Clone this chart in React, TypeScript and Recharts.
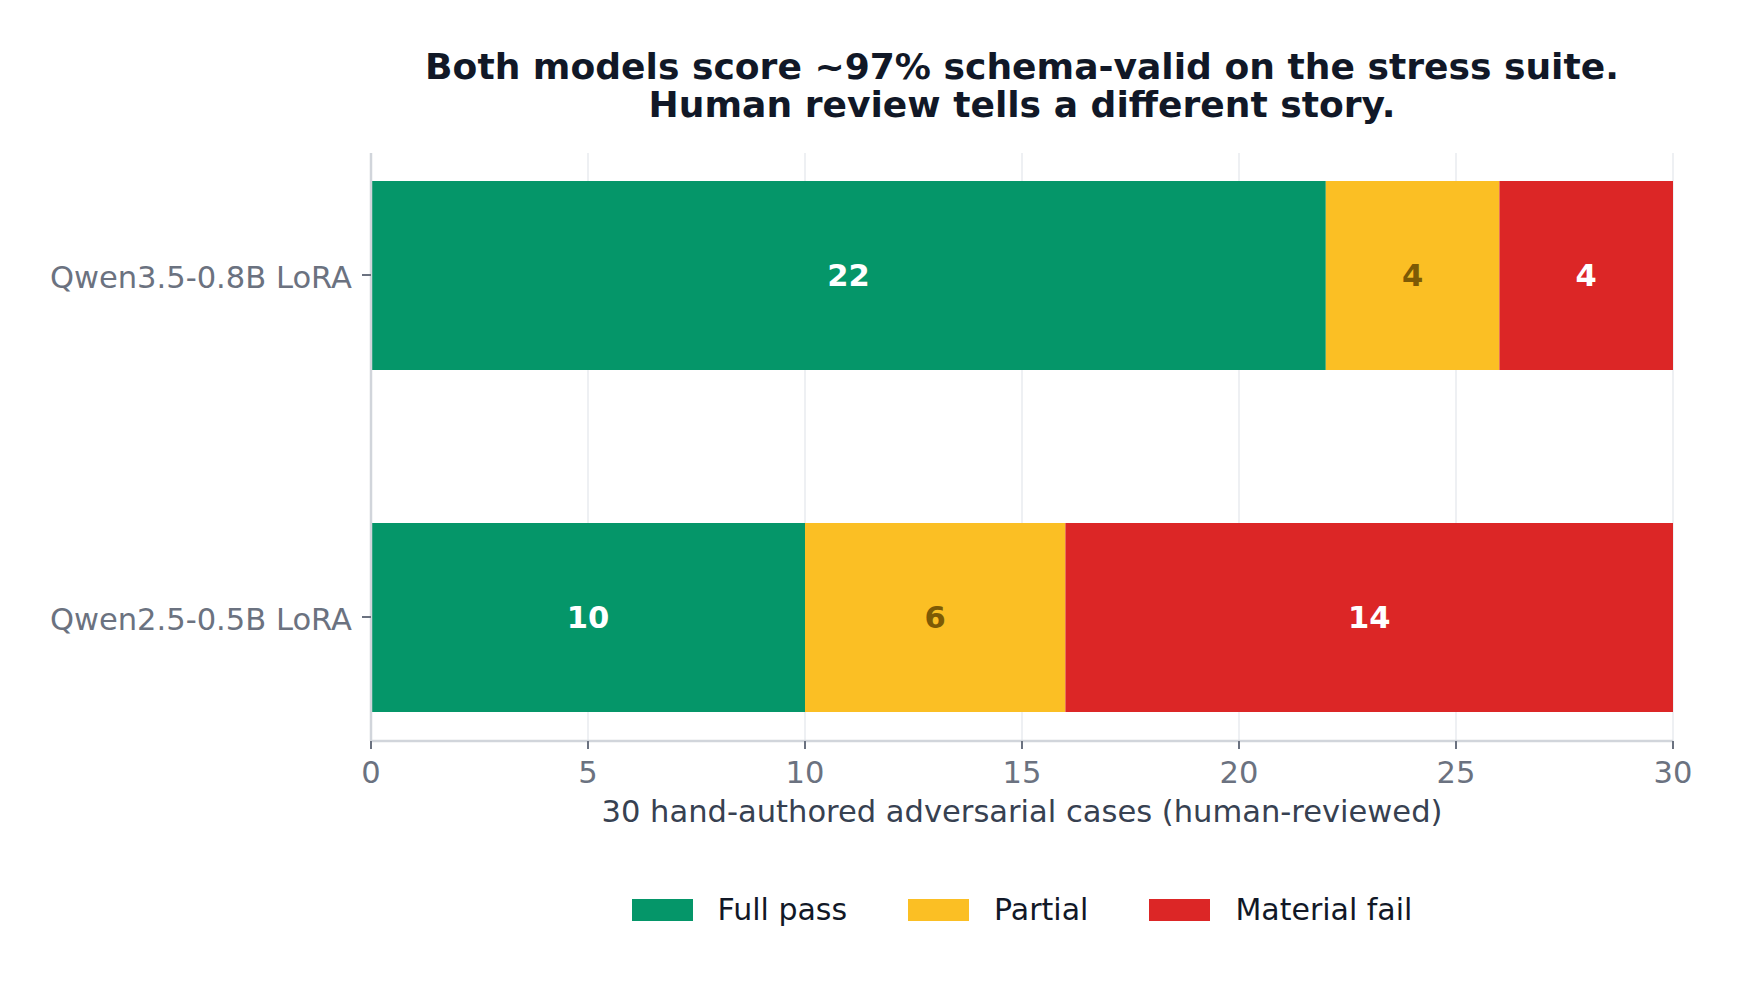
import {
  Bar,
  BarChart,
  CartesianGrid,
  LabelList,
  Legend,
  XAxis,
  YAxis,
} from "recharts";

const W = 1742;
const H = 987;

const models = ["Qwen3.5-0.8B LoRA", "Qwen2.5-0.5B LoRA"];
const fullPass = [22, 10];
const partial = [4, 6];
const materialFail = [4, 14];

const xTicks = [0, 5, 10, 15, 20, 25, 30];
const titleLines = [
  "Both models score ~97% schema-valid on the stress suite.",
  "Human review tells a different story.",
];
const xLabel = "30 hand-authored adversarial cases (human-reviewed)";

const GREEN = "#059669";
const AMBER = "#fbbf24";
const RED = "#dc2626";

const legendNames = ["Full pass", "Partial", "Material fail"];
const legendColors = [GREEN, AMBER, RED];

const rows = models.map((model, i) => ({
  model,
  full: fullPass[i],
  partial: partial[i],
  fail: materialFail[i],
}));

// 11pt / 13pt at 200 dpi
const FS = 30.56;
const TITLE_FS = 36.1;

const labelStyle = { fontSize: FS, fontWeight: "bold" } as const;

function renderLegend() {
  return (
    <div
      style={{
        display: "flex",
        justifyContent: "center",
        alignItems: "center",
        height: 40,
        marginLeft: 371,
        width: 1302,
      }}
    >
      {legendNames.map((name, i) => (
        <div
          key={name}
          style={{ display: "flex", alignItems: "center", marginLeft: i ? 61 : 0 }}
        >
          <span style={{ width: 61, height: 22, background: legendColors[i], marginRight: 25 }} />
          <span style={{ fontSize: 30, color: "#111827", lineHeight: "40px" }}>{name}</span>
        </div>
      ))}
    </div>
  );
}

export default function App() {
  return (
    <div
      style={{
        position: "absolute",
        left: 0,
        top: 0,
        width: W,
        height: H,
        background: "#fff",
        fontFamily: '"DejaVu Sans", sans-serif',
      }}
    >
      <BarChart
        width={W}
        height={H}
        data={rows}
        layout="vertical"
        barSize={189}
        margin={{ top: 153, right: 69, bottom: 163, left: 0 }}
      >
        <CartesianGrid horizontal={false} stroke="#eef0f3" strokeWidth={2} />
        <XAxis
          type="number"
          domain={[0, 30]}
          ticks={xTicks}
          height={83}
          tickSize={8}
          tickMargin={12}
          tick={{ fontSize: FS, fill: "#6b7280" }}
          tickLine={{ stroke: "#6b7280", strokeWidth: 2 }}
          axisLine={{ stroke: "#d1d5db", strokeWidth: 2.5 }}
          label={{
            value: xLabel,
            position: "insideBottom",
            offset: 2,
            fontSize: FS,
            fill: "#374151",
          }}
        />
        <YAxis
          type="category"
          dataKey="model"
          width={371}
          padding={{ top: -49, bottom: -47 }}
          tickSize={9}
          tickMargin={10}
          tick={{ fontSize: FS, fill: "#6b7280", dy: 2 }}
          tickLine={{ stroke: "#6b7280", strokeWidth: 2 }}
          axisLine={{ stroke: "#d1d5db", strokeWidth: 2.5 }}
        />
        <Bar dataKey="full" name="Full pass" stackId="a" fill={GREEN} isAnimationActive={false}>
          <LabelList dataKey="full" position="center" fill="#ffffff" {...labelStyle} />
        </Bar>
        <Bar dataKey="partial" name="Partial" stackId="a" fill={AMBER} isAnimationActive={false}>
          <LabelList dataKey="partial" position="center" fill="#7d5a05" {...labelStyle} />
        </Bar>
        <Bar dataKey="fail" name="Material fail" stackId="a" fill={RED} isAnimationActive={false}>
          <LabelList dataKey="fail" position="center" fill="#ffffff" {...labelStyle} />
        </Bar>
        <Legend
          layout="horizontal"
          verticalAlign="middle"
          align="center"
          content={renderLegend}
          wrapperStyle={{ top: 890, left: 0, width: W, height: 40 }}
        />
      </BarChart>
      <svg width={W} height={140} style={{ position: "absolute", left: 0, top: 0 }}>
        <text x={1022} y={79} textAnchor="middle" fontSize={TITLE_FS} fontWeight="bold" fill="#111827">
          {titleLines[0]}
        </text>
        <text x={1022} y={117} textAnchor="middle" fontSize={TITLE_FS} fontWeight="bold" fill="#111827">
          {titleLines[1]}
        </text>
      </svg>
    </div>
  );
}
